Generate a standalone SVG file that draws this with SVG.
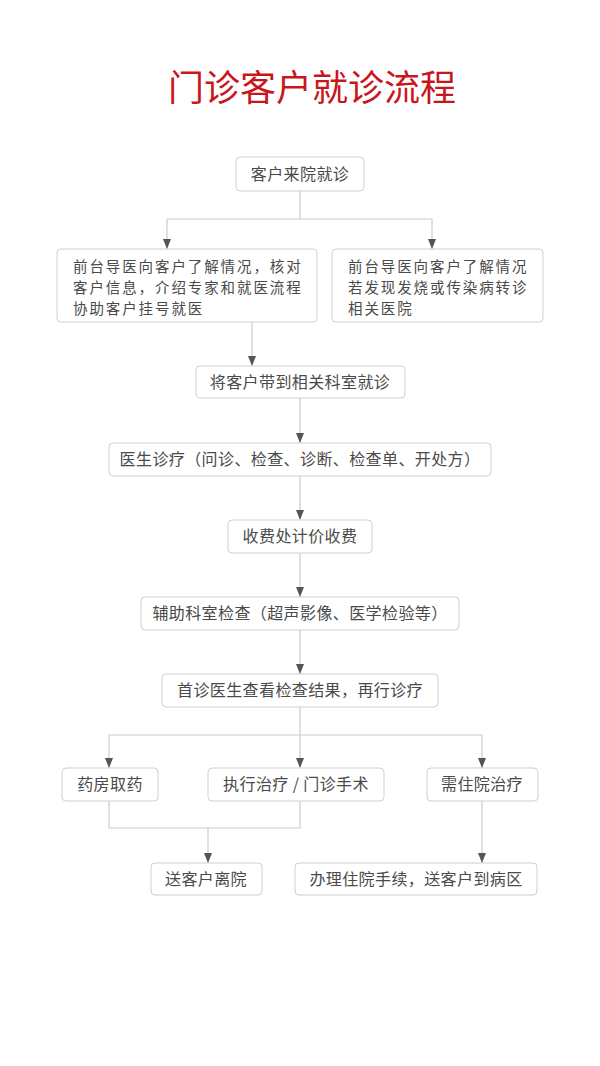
<svg xmlns="http://www.w3.org/2000/svg" width="600" height="1066" viewBox="0 0 600 1066">
<style>
.box{fill:#fff;stroke:#cfcfcf;stroke-width:1}
.t{font-family:"Noto Sans CJK SC","Noto Sans",sans-serif;font-size:16px;fill:#4a4a4a;letter-spacing:0.4px}
.m{font-size:14.5px;letter-spacing:1.9px}
.c{text-anchor:middle}
.ln{fill:none;stroke:#cccccc;stroke-width:1.2}
.title{font-family:"Noto Sans CJK SC","Noto Sans",sans-serif;font-size:36px;fill:#c8161d;text-anchor:middle}
</style>
<defs>
<marker id="ah" viewBox="0 0 10 8" refX="10" refY="4" markerWidth="10" markerHeight="8" markerUnits="userSpaceOnUse" orient="auto">
<path d="M0,0 L10,4 L0,8 z" fill="#555"/>
</marker>
</defs>
<rect width="600" height="1066" fill="#fff"/>
<text class="title" x="312" y="101">门诊客户就诊流程</text>
<g id="connectors">
<path class="ln" d="M300,191 V219 M167,219 H432"/>
<path class="ln" d="M167,219 V249" marker-end="url(#ah)"/>
<path class="ln" d="M432,219 V249" marker-end="url(#ah)"/>
<path class="ln" d="M252,322 V366" marker-end="url(#ah)"/>
<path class="ln" d="M300,398 V443" marker-end="url(#ah)"/>
<path class="ln" d="M300,476 V520" marker-end="url(#ah)"/>
<path class="ln" d="M300,553 V597" marker-end="url(#ah)"/>
<path class="ln" d="M300,630 V674" marker-end="url(#ah)"/>
<path class="ln" d="M300,707 V768" marker-end="url(#ah)"/>
<path class="ln" d="M109,735 H482"/>
<path class="ln" d="M109,735 V768" marker-end="url(#ah)"/>
<path class="ln" d="M482,735 V768" marker-end="url(#ah)"/>
<path class="ln" d="M109,801 V828 H300 V801"/>
<path class="ln" d="M208,828 V863" marker-end="url(#ah)"/>
<path class="ln" d="M482,801 V863" marker-end="url(#ah)"/>
</g>
<g id="n1"><rect class="box" x="236" y="157" width="128" height="34" rx="4"/><text class="t c" x="300" y="180">客户来院就诊</text></g>
<g id="n2"><rect class="box" x="57" y="249" width="260" height="73" rx="4"/>
<text class="t m" x="73" y="272">前台导医向客户了解情况，核对</text>
<text class="t m" x="73" y="293">客户信息，介绍专家和就医流程</text>
<text class="t m" x="73" y="314">协助客户挂号就医</text></g>
<g id="n3"><rect class="box" x="332" y="249" width="211" height="73" rx="4"/>
<text class="t m" x="348" y="272">前台导医向客户了解情况</text>
<text class="t m" x="348" y="293">若发现发烧或传染病转诊</text>
<text class="t m" x="348" y="314">相关医院</text></g>
<g id="n4"><rect class="box" x="196" y="366" width="209" height="32" rx="4"/><text class="t c" x="300" y="388">将客户带到相关科室就诊</text></g>
<g id="n5"><rect class="box" x="109" y="443" width="382" height="33" rx="4"/><text class="t c" x="300" y="465">医生诊疗（问诊、检查、诊断、检查单、开处方）</text></g>
<g id="n6"><rect class="box" x="228" y="520" width="144" height="33" rx="4"/><text class="t c" x="300" y="542">收费处计价收费</text></g>
<g id="n7"><rect class="box" x="141" y="597" width="318" height="33" rx="4"/><text class="t c" x="300" y="619">辅助科室检查（超声影像、医学检验等）</text></g>
<g id="n8"><rect class="box" x="162" y="674" width="276" height="33" rx="4"/><text class="t c" x="300" y="696">首诊医生查看检查结果，再行诊疗</text></g>
<g id="n9"><rect class="box" x="62" y="768" width="96" height="33" rx="4"/><text class="t c" x="110" y="790">药房取药</text></g>
<g id="n10"><rect class="box" x="208" y="768" width="176" height="33" rx="4"/><text class="t c" x="296" y="790">执行治疗 / 门诊手术</text></g>
<g id="n11"><rect class="box" x="427" y="768" width="111" height="33" rx="4"/><text class="t c" x="482" y="790">需住院治疗</text></g>
<g id="n12"><rect class="box" x="151" y="863" width="111" height="32" rx="4"/><text class="t c" x="206" y="885">送客户离院</text></g>
<g id="n13"><rect class="box" x="295" y="863" width="242" height="32" rx="4"/><text class="t c" x="416" y="885">办理住院手续，送客户到病区</text></g>
</svg>
